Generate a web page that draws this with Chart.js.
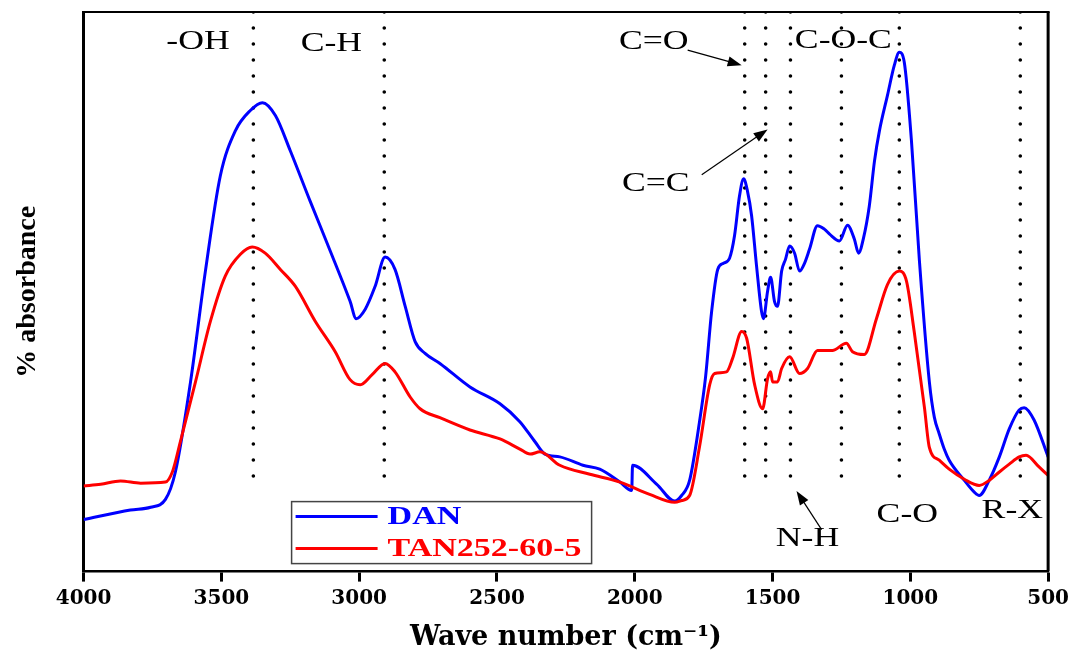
<!DOCTYPE html>
<html><head><meta charset="utf-8">
<script src="https://cdn.jsdelivr.net/npm/chart.js@4.4.1/dist/chart.umd.min.js"></script>
<style>html,body{margin:0;padding:0;background:#fff}</style>
</head><body>
<canvas id="c" width="1074" height="658"></canvas>
<script>
// ---- data (wavenumber cm^-1, absorbance in arbitrary units 0..1) ----
const waveDAN = [4000,3830,3757,3703,3667,3612,3558,3504,3449,3395,3351,3304,3250,3178,3105,3033,3011,2978,2942,2906,2870,2833,2797,2761,2707,2598,2489,2417,2362,2326,2272,2188,2127,2054,2011,2008,1920,1855,1830,1801,1765,1743,1721,1699,1678,1656,1638,1620,1605,1591,1576,1558,1540,1533,1518,1507,1493,1482,1467,1453,1438,1420,1402,1384,1366,1337,1312,1293,1257,1228,1203,1188,1170,1149,1130,1112,1083,1058,1040,1022,996,967,931,913,895,877,859,804,768,750,714,677,641,605,587,551,500];
const absDAN  = [0.093,0.110,0.115,0.129,0.178,0.339,0.537,0.707,0.788,0.824,0.838,0.815,0.752,0.662,0.573,0.483,0.452,0.469,0.510,0.562,0.540,0.474,0.411,0.390,0.372,0.330,0.300,0.268,0.232,0.210,0.205,0.190,0.183,0.160,0.145,0.190,0.156,0.126,0.136,0.163,0.268,0.348,0.465,0.540,0.551,0.560,0.600,0.671,0.702,0.680,0.636,0.546,0.465,0.452,0.501,0.526,0.483,0.474,0.537,0.558,0.582,0.569,0.537,0.551,0.576,0.618,0.612,0.603,0.591,0.619,0.594,0.569,0.596,0.653,0.734,0.788,0.851,0.905,0.928,0.910,0.770,0.555,0.339,0.276,0.246,0.219,0.199,0.163,0.142,0.136,0.163,0.205,0.255,0.289,0.293,0.271,0.205];
const waveTAN = [4000,3938,3866,3793,3703,3678,3649,3594,3540,3486,3431,3388,3341,3286,3232,3159,3087,3033,2996,2953,2906,2870,2815,2779,2707,2598,2489,2417,2380,2344,2272,2163,2054,1946,1855,1830,1801,1765,1728,1710,1667,1645,1612,1594,1565,1536,1518,1507,1500,1482,1467,1438,1402,1373,1337,1283,1232,1210,1167,1123,1083,1040,1014,986,949,931,895,859,804,750,714,677,641,605,580,533,500];
const absTAN  = [0.153,0.156,0.162,0.158,0.160,0.178,0.232,0.339,0.447,0.528,0.567,0.580,0.569,0.540,0.510,0.447,0.393,0.343,0.334,0.352,0.372,0.357,0.312,0.291,0.275,0.253,0.237,0.219,0.210,0.214,0.190,0.174,0.160,0.138,0.124,0.127,0.136,0.223,0.334,0.354,0.357,0.381,0.429,0.417,0.334,0.291,0.345,0.357,0.339,0.339,0.363,0.384,0.354,0.363,0.395,0.395,0.408,0.393,0.388,0.452,0.513,0.537,0.519,0.429,0.294,0.222,0.199,0.183,0.165,0.154,0.163,0.178,0.192,0.205,0.208,0.187,0.172];
const seriesNames = ['DAN', 'TAN252-60-5'];
const xTickValues = [4000,3500,3000,2500,2000,1500,1000,500];
const bandWaves = [3384, 2909, 1601, 1525, 1435, 1250, 1040, 601];
const bandTop = 1.0, bandBottom = 0.156;
const bandLabelText = ['-OH','C-H','C=O','C-O-C','C=C','N-H','C-O','R-X'];
const bandLabelWave = [3585, 3101, 1931, 1243, 1924, 1373, 1011, 630];
const bandLabelAbs  = [0.946, 0.943, 0.946, 0.948, 0.693, 0.058, 0.101, 0.108];
// arrows: [fromWave, fromAbs, toWave, toAbs]
const arrowFromWave = [1808, 1757, 1322];
const arrowFromAbs  = [0.932, 0.709, 0.075];
const arrowToWave   = [1612, 1518, 1413];
const arrowToAbs    = [0.905, 0.790, 0.144];

const pts = (w, a) => w.map((v, i) => ({x: v, y: a[i]}));

const datasets = [
  {label: seriesNames[0], data: pts(waveDAN, absDAN), borderColor: '#0000ff', borderWidth: 3, pointRadius: 0, cubicInterpolationMode: 'monotone', order: 2},
  {label: seriesNames[1], data: pts(waveTAN, absTAN), borderColor: '#ff0000', borderWidth: 3, pointRadius: 0, cubicInterpolationMode: 'monotone', order: 1}
];
bandWaves.forEach(w => datasets.push({
  data: [{x: w, y: bandTop}, {x: w, y: bandBottom}],
  borderColor: '#000', borderWidth: 3.6, borderDash: [0, 16], borderCapStyle: 'round',
  pointRadius: 0, order: 3, tension: 0
}));

function stretchedText(ctx, text, x, y, font, sx, color) {
  ctx.save();
  ctx.translate(x, y);
  ctx.scale(sx, 1);
  ctx.font = font;
  ctx.fillStyle = color;
  ctx.textBaseline = 'middle';
  ctx.textAlign = 'center';
  ctx.fillText(text, 0, 0);
  ctx.restore();
}
function arrow(ctx, x1, y1, x2, y2) {
  const ang = Math.atan2(y2 - y1, x2 - x1);
  const L = 14, W = 5;
  ctx.save();
  ctx.strokeStyle = '#000'; ctx.fillStyle = '#000'; ctx.lineWidth = 1.2;
  ctx.beginPath(); ctx.moveTo(x1, y1);
  ctx.lineTo(x2 - Math.cos(ang) * L * 0.8, y2 - Math.sin(ang) * L * 0.8); ctx.stroke();
  ctx.beginPath();
  ctx.moveTo(x2, y2);
  ctx.lineTo(x2 - L * Math.cos(ang) + W * Math.sin(ang), y2 - L * Math.sin(ang) - W * Math.cos(ang));
  ctx.lineTo(x2 - L * Math.cos(ang) - W * Math.sin(ang), y2 - L * Math.sin(ang) + W * Math.cos(ang));
  ctx.closePath(); ctx.fill();
  ctx.restore();
}

const decorPlugin = {
  id: 'decor',
  afterDatasetsDraw(chart) {
    const {ctx, chartArea: a, scales: {x, y}} = chart;
    ctx.save();
    ctx.strokeStyle = '#000';
    ctx.lineWidth = 2;
    ctx.beginPath(); ctx.moveTo(a.left, a.top); ctx.lineTo(a.right + 1.5, a.top); ctx.stroke();
    ctx.lineWidth = 3;
    ctx.beginPath(); ctx.moveTo(a.right, a.top); ctx.lineTo(a.right, a.bottom); ctx.stroke();
    ctx.restore();

    bandLabelText.forEach((t, i) => stretchedText(ctx, t, x.getPixelForValue(bandLabelWave[i]), y.getPixelForValue(bandLabelAbs[i]), '27px "Liberation Serif"', 1.32, '#000'));
    arrowFromWave.forEach((w, i) => arrow(ctx, x.getPixelForValue(w), y.getPixelForValue(arrowFromAbs[i]), x.getPixelForValue(arrowToWave[i]), y.getPixelForValue(arrowToAbs[i])));

    // legend box inside plot
    const bx = a.left + 208, by = a.bottom - 70, bw = 300, bh = 62;
    ctx.save();
    ctx.fillStyle = '#fff';
    ctx.fillRect(bx, by, bw, bh);
    ctx.strokeStyle = '#444'; ctx.lineWidth = 1.5;
    ctx.strokeRect(bx, by, bw, bh);
    const items = chart.data.datasets.filter(d => d.label);
    items.forEach((d, i) => {
      const cy = by + 15 + i * 32;
      ctx.strokeStyle = d.borderColor; ctx.lineWidth = 3;
      ctx.beginPath(); ctx.moveTo(bx + 4, cy); ctx.lineTo(bx + 86, cy); ctx.stroke();
      ctx.save();
      ctx.translate(bx + 96, cy);
      ctx.scale(1.36, 1);
      ctx.font = 'bold 25px "Liberation Serif"';
      ctx.fillStyle = d.borderColor;
      ctx.textBaseline = 'middle';
      ctx.textAlign = 'left';
      ctx.fillText(d.label, 0, 1);
      ctx.restore();
    });
    ctx.restore();
  }
};

new Chart(document.getElementById('c'), {
  type: 'line',
  data: {datasets},
  options: {
    responsive: false,
    animation: false,
    devicePixelRatio: 1,
    parsing: true,
    layout: {padding: {top: 12, right: 25, left: 0, bottom: 0}},
    plugins: {legend: {display: false}, tooltip: {enabled: false}},
    scales: {
      x: {
        type: 'linear', reverse: true, min: 500, max: 4000,
        afterBuildTicks: s => { s.ticks = xTickValues.map(v => ({value: v})); },
        ticks: {color: '#000', font: {family: 'DejaVu Serif', weight: 'bold', size: 20}, padding: 5, maxRotation: 0, autoSkip: false, callback: v => String(v)},
        grid: {drawOnChartArea: false, drawTicks: true, tickLength: 10, tickWidth: 3, tickColor: '#000'},
        border: {display: true, color: '#000', width: 2.5},
        title: {display: true, text: 'Wave number (cm⁻¹)', color: '#000', font: {family: 'DejaVu Serif', weight: 'bold', size: 27}, padding: {top: 6, bottom: 4}}
      },
      y: {
        min: 0, max: 1,
        ticks: {display: false},
        grid: {display: false},
        border: {display: true, color: '#000', width: 3},
        title: {display: true, text: '% absorbance', color: '#000', font: {family: 'Liberation Serif', weight: 'bold', size: 28}, padding: {top: 11, bottom: 31}}
      }
    }
  },
  plugins: [decorPlugin]
});
</script>
</body></html>
